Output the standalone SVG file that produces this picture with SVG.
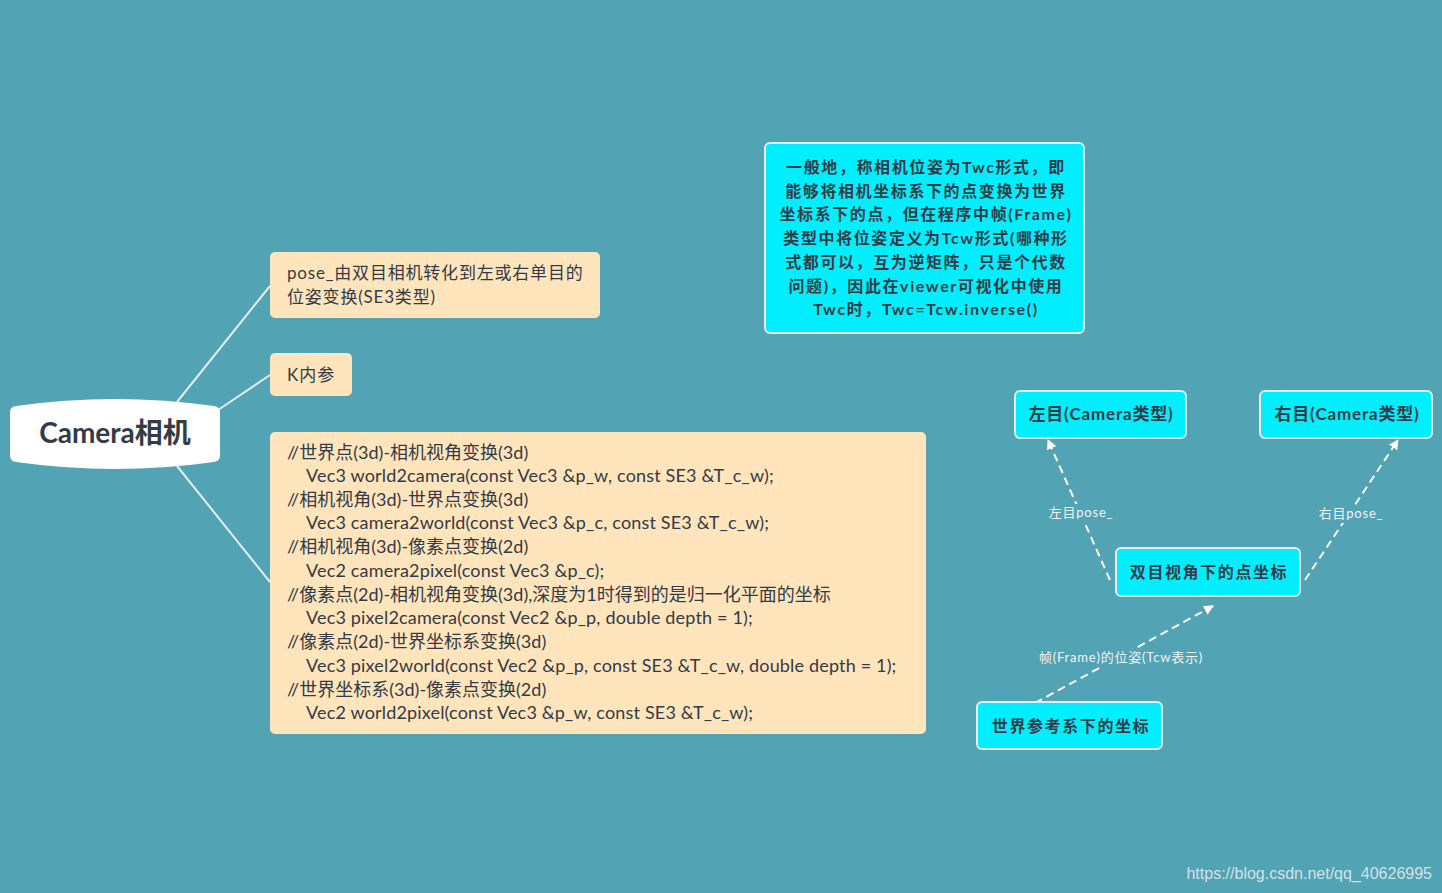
<svg xmlns="http://www.w3.org/2000/svg" width="1442" height="893" viewBox="0 0 1442 893">
<defs>
<style>
.t{font-family:Lato,"Noto Sans CJK SC",sans-serif;fill:#333b46}
.cream{fill:#ffe4bc}
.cyan{fill:#00eefe;stroke:#e4eef2;stroke-width:2}
.b{font-weight:bold}
.tree{stroke:#e2edf1;stroke-width:2;fill:none}
.dash{stroke:#ffffff;stroke-width:2;stroke-dasharray:8 5;fill:none}
.lbl{font-family:Lato,"Noto Sans CJK SC",sans-serif;font-size:13px;letter-spacing:0.8px;fill:#eef4f6}
.code{font-size:18px}
.v{letter-spacing:0.17px}
</style>
<marker id="ah" viewBox="0 0 10 10" refX="9" refY="5" markerWidth="10" markerHeight="10" markerUnits="userSpaceOnUse" orient="auto">
<path d="M0,0 L10,5 L0,10 z" fill="#ffffff"/>
</marker>
</defs>
<rect width="1442" height="893" fill="#52a3b4"/>
<g id="connectors">
<path class="tree" d="M177,402 L270,286"/>
<path class="tree" d="M218,410 L270,375"/>
<path class="tree" d="M177,466 L270,582"/>
<path class="dash" d="M1110,580 L1048,440" marker-end="url(#ah)"/>
<path class="dash" d="M1305,580 L1398,440" marker-end="url(#ah)"/>
<path class="dash" d="M1035,703 L1213,606" marker-end="url(#ah)"/>
<rect x="1046" y="504" width="70" height="18" fill="#52a3b4"/>
<text class="lbl" x="1081" y="517" text-anchor="middle">左目pose_</text>
<rect x="1316" y="505" width="70" height="18" fill="#52a3b4"/>
<text class="lbl" x="1351" y="518" text-anchor="middle">右目pose_</text>
<rect x="1037" y="649" width="168" height="18" fill="#52a3b4"/>
<text class="lbl" x="1121" y="662" text-anchor="middle">帧(Frame)的位姿(Tcw表示)</text>
</g>
<g id="root">
<path d="M10,412 Q10,407 16,406 Q115,392 214,406 Q220,407 220,412 L220,456 Q220,461 214,462 Q115,476 16,462 Q10,461 10,456 Z" fill="#ffffff"/>
<text class="t b" x="115" y="443" font-size="28" text-anchor="middle">Camera相机</text>
</g>
<g id="pose">
<rect class="cream" x="270" y="252" width="330" height="66" rx="5"/>
<text class="t" x="287" y="279" font-size="17" letter-spacing="0.8">pose_由双目相机转化到左或右单目的</text>
<text class="t" x="287" y="303" font-size="17" letter-spacing="0.8">位姿变换(SE3类型)</text>
</g>
<g id="k">
<rect class="cream" x="270" y="353" width="82" height="43" rx="5"/>
<text class="t" x="287" y="381" font-size="17" letter-spacing="1">K内参</text>
</g>
<g id="code">
<rect class="cream" x="270" y="432" width="656" height="302" rx="5"/>
<g class="t code">
<text x="287" y="459">//世界点(3d)-相机视角变换(3d)</text>
<text class="v" x="306" y="482">Vec3 world2camera(const Vec3 &amp;p_w, const SE3 &amp;T_c_w);</text>
<text x="287" y="506">//相机视角(3d)-世界点变换(3d)</text>
<text class="v" x="306" y="529">Vec3 camera2world(const Vec3 &amp;p_c, const SE3 &amp;T_c_w);</text>
<text x="287" y="553">//相机视角(3d)-像素点变换(2d)</text>
<text class="v" x="306" y="577">Vec2 camera2pixel(const Vec3 &amp;p_c);</text>
<text x="287" y="601">//像素点(2d)-相机视角变换(3d),深度为1时得到的是归一化平面的坐标</text>
<text class="v" x="306" y="624">Vec3 pixel2camera(const Vec2 &amp;p_p, double depth = 1);</text>
<text x="287" y="648">//像素点(2d)-世界坐标系变换(3d)</text>
<text class="v" x="306" y="672">Vec3 pixel2world(const Vec2 &amp;p_p, const SE3 &amp;T_c_w, double depth = 1);</text>
<text x="287" y="696">//世界坐标系(3d)-像素点变换(2d)</text>
<text class="v" x="306" y="719">Vec2 world2pixel(const Vec3 &amp;p_w, const SE3 &amp;T_c_w);</text>
</g>
</g>
<g id="note">
<rect class="cyan" x="765" y="143" width="319" height="190" rx="5"/>
<g class="t b" font-size="16" letter-spacing="1.6" text-anchor="middle">
<text x="926" y="173">一般地，称相机位姿为Twc形式，即</text>
<text x="926" y="197">能够将相机坐标系下的点变换为世界</text>
<text x="926" y="220">坐标系下的点，但在程序中帧(Frame)</text>
<text x="926" y="244">类型中将位姿定义为Tcw形式(哪种形</text>
<text x="926" y="268">式都可以，互为逆矩阵，只是个代数</text>
<text x="926" y="292">问题)，因此在viewer可视化中使用</text>
<text x="926" y="315">Twc时，Twc=Tcw.inverse()</text>
</g>
</g>
<g id="left">
<rect class="cyan" x="1015" y="391" width="171" height="47" rx="5"/>
<text class="t b" x="1101" y="420" font-size="17" letter-spacing="0.8" text-anchor="middle">左目(Camera类型)</text>
</g>
<g id="right">
<rect class="cyan" x="1260" y="391" width="172" height="47" rx="5"/>
<text class="t b" x="1347" y="420" font-size="17" letter-spacing="0.8" text-anchor="middle">右目(Camera类型)</text>
</g>
<g id="stereo">
<rect class="cyan" x="1116" y="548" width="184" height="48" rx="5"/>
<text class="t b" x="1209" y="578" font-size="16" letter-spacing="1.6" text-anchor="middle">双目视角下的点坐标</text>
</g>
<g id="world">
<rect class="cyan" x="977" y="702" width="185" height="47" rx="5"/>
<text class="t b" x="1071" y="732" font-size="16" letter-spacing="1.6" text-anchor="middle">世界参考系下的坐标</text>
</g>
<text x="1432" y="879" text-anchor="end" font-family="Liberation Sans,Arial,sans-serif" font-size="16" fill="#d3e2e7">https://blog.csdn.net/qq_40626995</text>
</svg>
